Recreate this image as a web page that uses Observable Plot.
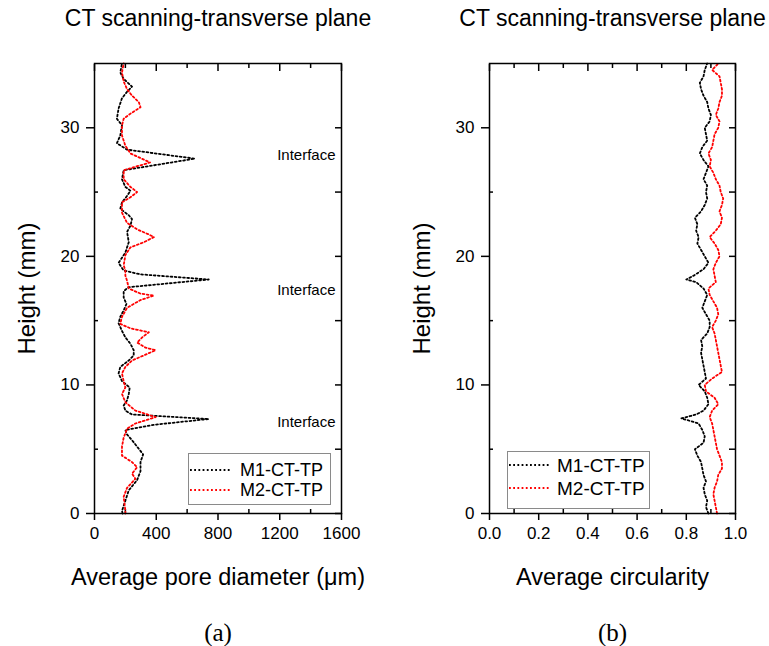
<!DOCTYPE html>
<html><head><meta charset="utf-8">
<script src="https://cdn.jsdelivr.net/npm/d3@7"></script>
<script src="https://cdn.jsdelivr.net/npm/@observablehq/plot@0.6"></script>
<style>
body{margin:0;background:#fff;}
#wrap{position:relative;width:769px;height:646px;font-family:"Liberation Sans",Arial,sans-serif;overflow:hidden;}
.panel{position:absolute;top:0;}
.lbox{position:absolute;border:1.5px solid #8a8a8a;background:#fff;box-sizing:border-box;}
.ltext{position:absolute;color:#000;white-space:nowrap;}
.lline{position:absolute;}
</style></head><body>
<div id="wrap"></div>
<script>
// ---- Panel (a): average pore diameter (µm) vs height (mm)
const m1aHeight = [0.0,0.2,1.0,1.8,2.6,3.3,4.0,4.6,5.2,5.7,6.2,6.5,6.9,7.35,7.7,8.0,8.4,8.8,9.3,9.8,10.3,10.9,11.4,11.9,12.3,12.7,13.2,13.7,14.2,14.8,15.3,15.8,16.3,16.8,17.3,17.6,18.2,18.6,18.9,19.5,20.3,21.1,21.9,22.4,22.9,23.2,23.7,24.2,24.7,25.1,25.4,26.0,26.7,27.6,28.3,28.8,29.4,30.2,30.7,31.5,32.3,32.8,33.2,33.8,34.3,35.0];
const m1aDiam   = [182,178,200,222,276,298,298,315,276,243,207,200,385,740,243,200,189,211,222,228,178,156,167,222,254,254,233,200,178,156,167,189,207,189,189,222,740,298,189,156,200,222,211,233,243,222,167,178,211,233,200,178,189,650,211,145,167,178,145,156,178,211,243,189,167,178];
const m2aHeight = [0.0,0.2,1.3,2.0,2.7,3.1,3.6,4.0,4.5,5.2,5.9,6.6,7.0,7.5,8.0,8.65,9.3,9.8,10.3,10.9,11.4,11.9,12.3,12.7,12.9,13.3,13.7,14.1,14.4,14.75,15.3,16.0,16.6,16.95,17.1,17.5,18.1,18.5,18.9,19.3,20.1,20.7,21.1,21.5,21.7,22.1,22.6,23.4,24.2,24.6,25.0,25.4,26.0,26.7,27.3,28.0,28.6,29.4,30.2,30.7,31.1,31.6,32.0,32.5,33.0,33.6,34.3,35.0];
const m2aDiam   = [200,200,189,211,265,243,276,243,178,178,189,211,265,396,265,200,178,200,189,178,200,243,320,396,330,276,309,352,233,167,178,211,298,385,298,222,211,200,200,189,200,233,320,385,352,276,211,178,178,233,276,233,189,189,360,233,200,178,178,189,233,298,287,243,211,189,178,189];

// ---- Panel (b): average circularity vs height (mm)
const m1bHeight = [0,0.5,1,1.5,2,2.5,3,3.5,4,4.5,5,5.5,6,6.5,7,7.4,7.7,8,8.5,9,9.5,10,10.5,11,11.5,12,12.5,13,13.5,14,14.5,15,15.5,16,16.5,17,17.5,18,18.2,18.5,19,19.5,20,20.5,21,21.5,22,22.5,23,23.5,24,24.5,25,25.5,26,26.5,27,27.5,28,28.5,29,29.5,30,30.5,31,31.5,32,32.5,33,33.5,34,34.5,35];
const m1bCirc   = [0.89,0.88,0.885,0.875,0.87,0.88,0.87,0.865,0.86,0.845,0.835,0.87,0.875,0.865,0.85,0.78,0.84,0.87,0.89,0.885,0.875,0.85,0.88,0.875,0.87,0.865,0.86,0.865,0.86,0.885,0.895,0.895,0.88,0.865,0.875,0.885,0.87,0.84,0.80,0.83,0.87,0.89,0.875,0.86,0.845,0.85,0.84,0.845,0.835,0.86,0.875,0.885,0.88,0.885,0.87,0.88,0.89,0.87,0.855,0.865,0.885,0.88,0.875,0.895,0.9,0.89,0.885,0.87,0.86,0.855,0.87,0.875,0.885];
const m2bHeight = [0,0.5,1,1.5,2,2.5,3,3.5,4,4.5,5,5.5,6,6.5,7,7.5,8,8.5,9,9.5,10,10.5,11,11.5,12,12.5,13,13.5,14,14.5,15,15.5,16,16.5,17,17.5,18,18.5,19,19.5,20,20.5,21,21.5,22,22.5,23,23.5,24,24.5,25,25.5,26,26.5,27,27.5,28,28.5,29,29.5,30,30.5,31,31.5,32,32.5,33,33.5,34,34.5,35];
const m2bCirc   = [0.925,0.92,0.915,0.91,0.915,0.925,0.93,0.945,0.945,0.935,0.925,0.92,0.915,0.91,0.905,0.895,0.905,0.93,0.915,0.88,0.875,0.905,0.945,0.94,0.935,0.93,0.925,0.92,0.915,0.905,0.92,0.93,0.925,0.91,0.895,0.89,0.92,0.915,0.91,0.92,0.935,0.93,0.915,0.895,0.92,0.94,0.945,0.935,0.945,0.95,0.94,0.935,0.92,0.91,0.895,0.9,0.89,0.905,0.91,0.915,0.93,0.935,0.92,0.93,0.935,0.945,0.945,0.94,0.935,0.905,0.93];

// ---- ticks, labels
const xTicksA = [0,400,800,1200,1600];
const xMinorA = [200,600,1000,1400];
const xTicksB = [0,0.2,0.4,0.6,0.8,1.0];
const xMinorB = [0.1,0.3,0.5,0.7,0.9];
const yTicks = [0,10,20,30];
const yMinor = [5,15,25];
const interfaceHeights = [7.1,17.4,27.9];
const seriesNames = ["M1-CT-TP","M2-CT-TP"];
const seriesColors = ["#000000","#ff0000"];
const panelTitle = "CT scanning-transverse plane";
const xLabelA = "Average pore diameter (\u03bcm)";
const xLabelB = "Average circularity";
const yLabel = "Height (mm)";

const zip = (hs, vs) => hs.map((h,i)=>({h, v: vs[i]}));
const sans = "Liberation Sans, Arial, sans-serif";
const DASH = "1.8 2.4";

function panel({width, marginLeft, marginRight, xDomain, xTicks, xMinor, xFormat, s1, s2, xLabel, cap, extra}) {
  const dash = {strokeWidth: 1.8, strokeDasharray: DASH, curve: "linear"};
  return Plot.plot({
    width, height: 646,
    marginLeft, marginRight, marginTop: 63, marginBottom: 133,
    style: {fontFamily: sans, background: "transparent", color: "black", overflow: "visible"},
    x: {domain: xDomain, label: null},
    y: {domain: [0,35], label: null},
    marks: [
      Plot.axisX(xTicks, {anchor: "bottom", tickSize: 7, tickPadding: 6, fontSize: 17, strokeWidth: 1.5, tickFormat: xFormat, label: null}),
      Plot.axisX(xMinor, {anchor: "bottom", tickSize: -4, tickFormat: () => "", strokeWidth: 1.5, label: null}),
      Plot.axisX(xTicks, {anchor: "top", tickSize: -7, tickFormat: () => "", strokeWidth: 1.5, label: null}),
      Plot.axisX(xMinor, {anchor: "top", tickSize: -4, tickFormat: () => "", strokeWidth: 1.5, label: null}),
      Plot.axisY(yTicks, {anchor: "left", tickSize: 8, tickPadding: 7, fontSize: 17, strokeWidth: 1.5, label: null}),
      Plot.axisY(yMinor, {anchor: "left", tickSize: -4, tickFormat: () => "", strokeWidth: 1.5, label: null}),
      Plot.axisY(yTicks, {anchor: "right", tickSize: -7, tickFormat: () => "", strokeWidth: 1.5, label: null}),
      Plot.axisY(yMinor, {anchor: "right", tickSize: -7, tickFormat: () => "", strokeWidth: 1.5, label: null}),
      Plot.line(s1, {x: "v", y: "h", stroke: seriesColors[0], ...dash}),
      Plot.line(s2, {x: "v", y: "h", stroke: seriesColors[1], ...dash}),
      ...extra,
      Plot.text([panelTitle], {text: d => d, frameAnchor: "top", lineAnchor: "middle", textAnchor: "middle", dy: -45, fontSize: 23, fill: "black"}),
      Plot.text([xLabel], {text: d => d, frameAnchor: "bottom", lineAnchor: "middle", textAnchor: "middle", dy: 64, fontSize: 23.5, fill: "black"}),
      Plot.text([yLabel], {text: d => d, frameAnchor: "left", lineAnchor: "middle", textAnchor: "middle", rotate: -90, dx: -67, fontSize: 24, fill: "black"}),
      Plot.text([cap], {text: d => d, frameAnchor: "bottom", lineAnchor: "middle", textAnchor: "middle", dy: 119, fontSize: 25, fontFamily: "Liberation Serif, Times New Roman, serif", fill: "black"}),
      Plot.frame({stroke: "black", strokeWidth: 1.5})
    ]
  });
}

const wrap = document.getElementById("wrap");

const pa = panel({
  width: 384, marginLeft: 94, marginRight: 43,
  xDomain: [0,1600], xTicks: xTicksA, xMinor: xMinorA, xFormat: d => String(d),
  s1: zip(m1aHeight, m1aDiam), s2: zip(m2aHeight, m2aDiam),
  xLabel: xLabelA, cap: "(a)",
  extra: [Plot.text(interfaceHeights, {y: d => d, text: () => "Interface", frameAnchor: "right", textAnchor: "end", lineAnchor: "middle", dx: -6, fontSize: 15, fill: "black"})]
});
pa.classList.add("panel"); pa.style.left = "0px";
wrap.appendChild(pa);

const pb = panel({
  width: 385, marginLeft: 105, marginRight: 34,
  xDomain: [0,1], xTicks: xTicksB, xMinor: xMinorB, xFormat: d3.format(".1f"),
  s1: zip(m1bHeight, m1bCirc), s2: zip(m2bHeight, m2bCirc),
  xLabel: xLabelB, cap: "(b)", extra: []
});
pb.classList.add("panel"); pb.style.left = "384px";
wrap.appendChild(pb);

// legends
function legend(box, lineX0, lineX1, textX, rowsY, fs) {
  const b = document.createElement("div");
  b.className = "lbox";
  Object.assign(b.style, {left: box[0]+"px", top: box[1]+"px", width: box[2]+"px", height: box[3]+"px"});
  wrap.appendChild(b);
  seriesNames.forEach((name, i) => {
    const ns = "http://www.w3.org/2000/svg";
    const svg = document.createElementNS(ns, "svg");
    svg.setAttribute("width", lineX1 - lineX0); svg.setAttribute("height", 4);
    svg.setAttribute("class", "lline");
    svg.style.left = lineX0 + "px"; svg.style.top = (rowsY[i] - 2) + "px";
    const ln = document.createElementNS(ns, "line");
    ln.setAttribute("x1", 0); ln.setAttribute("x2", lineX1 - lineX0);
    ln.setAttribute("y1", 2); ln.setAttribute("y2", 2);
    ln.setAttribute("stroke", seriesColors[i]); ln.setAttribute("stroke-width", 1.8);
    ln.setAttribute("stroke-dasharray", DASH);
    svg.appendChild(ln);
    wrap.appendChild(svg);
    const t = document.createElement("div");
    t.className = "ltext"; t.textContent = name;
    t.style.fontSize = fs + "px"; t.style.lineHeight = fs + "px";
    t.style.left = textX + "px"; t.style.top = (rowsY[i] - fs / 2) + "px";
    wrap.appendChild(t);
  });
}
legend([188,453,143,52], 190, 230, 240, [470,490], 18);
legend([507,451,143,58], 509, 550, 557, [465,488], 19);
</script>
</body></html>
